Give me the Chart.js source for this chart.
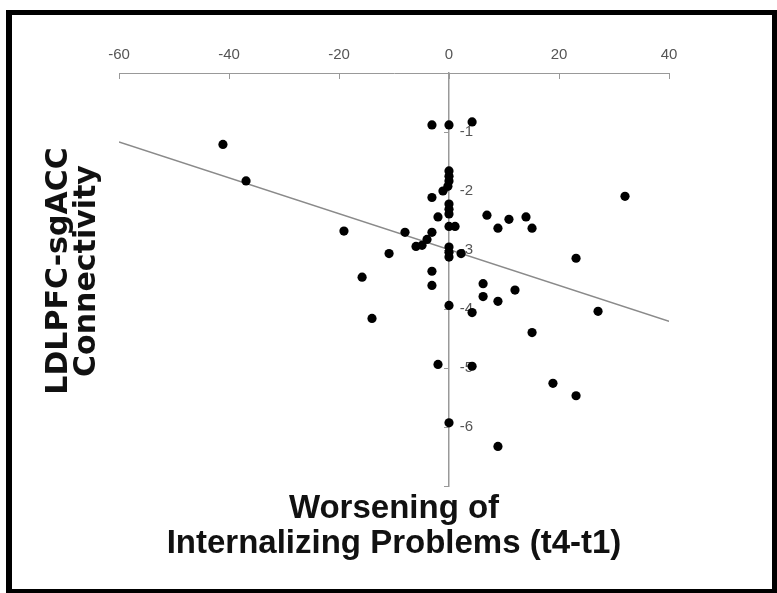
<!DOCTYPE html>
<html>
<head>
<meta charset="utf-8">
<title>LDLPFC-sgACC Connectivity</title>
<script src="https://cdn.jsdelivr.net/npm/chart.js@4.4.1/dist/chart.umd.min.js"></script>
<style>
  html, body { margin: 0; padding: 0; background: #fff; }
  #frame {
    position: absolute; left: 6px; top: 10px; width: 771px; height: 583px;
    box-sizing: border-box; border-style: solid; border-color: #000;
    border-width: 5px 5px 4px 6px;
  }
  #chart { position: absolute; left: 0; top: 0; }
</style>
</head>
<body>
<div id="frame"></div>
<canvas id="chart" width="777" height="593"></canvas>
<script>
// worsening of internalizing problems (t4-t1), one entry per subject
const worsening = [-41.1, -36.9, -3.1, 0, 4.2, 0, 0, 0, -0.2, -1.1, -3.1, 0, 0, 0, -2.0, 6.9, 8.9, 10.9, 14.0, 15.1,
  32.0, 0, 1.1, -19.1, -8.0, -3.1, -4.0, -4.9, -6.0, -10.9, 0, 0, 0, 2.2, 23.1, -15.8, -3.1, -3.1, 6.2, 6.2,
  8.9, 12.0, -14.0, 0, 4.2, 27.1, 15.1, -2.0, 4.2, 18.9, 23.1, 0, 8.9];

// LDLPFC-sgACC connectivity for the same subjects
const connectivity = [-1.21, -1.83, -0.88, -0.88, -0.83, -1.66, -1.75, -1.83, -1.92, -2.00, -2.11, -2.22, -2.31, -2.39, -2.44, -2.41, -2.63, -2.48, -2.44, -2.63,
  -2.09, -2.60, -2.60, -2.68, -2.70, -2.70, -2.82, -2.92, -2.94, -3.06, -2.95, -3.04, -3.12, -3.06, -3.14, -3.46, -3.36, -3.60, -3.57, -3.79,
  -3.87, -3.68, -4.16, -3.94, -4.06, -4.04, -4.40, -4.94, -4.97, -5.26, -5.47, -5.93, -6.33];

// fitted line, read at both ends of the x axis
const trendX = [-60, 40];
const trendY = [-1.17, -4.21];

const xTitle = ['Worsening of', 'Internalizing Problems (t4-t1)'];
const yTitle = ['LDLPFC-sgACC', 'Connectivity'];

Chart.defaults.font.family = "'Liberation Sans', Arial, sans-serif";

const ctx = document.getElementById('chart').getContext('2d');

const points = worsening.map((x, i) => ({ x: x, y: connectivity[i] }));
const trend = trendX.map((x, i) => ({ x: x, y: trendY[i] }));

new Chart(ctx, {
  type: 'scatter',
  data: {
    datasets: [{
      data: points,
      pointRadius: 4.6,
      pointBackgroundColor: '#000',
      pointBorderColor: '#000',
      pointBorderWidth: 0,
      order: 1
    }, {
      type: 'line',
      data: trend,
      borderColor: '#8a8a8a',
      borderWidth: 1.5,
      pointRadius: 0,
      fill: false,
      order: 2
    }]
  },
  options: {
    responsive: false,
    animation: false,
    devicePixelRatio: 1,
    layout: { padding: { top: 31, bottom: 82, left: 20, right: 108 } },
    plugins: {
      legend: { display: false },
      tooltip: { enabled: false },
      // x axis title sits under the plot
      title: {
        display: true,
        position: 'bottom',
        fullSize: false,
        text: xTitle,
        color: '#111',
        font: { size: 33, weight: 'bold', lineHeight: 35 / 33 },
        padding: { top: 5, bottom: -50 }
      },
      // y axis title on the left, two rotated lines
      subtitle: {
        display: true,
        position: 'left',
        text: yTitle,
        color: '#111',
        font: { family: "'DejaVu Sans', sans-serif", size: 30, weight: 'bold', lineHeight: 28 / 30 },
        padding: { top: 25, bottom: 18 }
      }
    },
    scales: {
      x: {
        type: 'linear',
        position: 'top',
        min: -60,
        max: 40,
        ticks: { stepSize: 20, color: '#555', font: { size: 15 }, padding: 15 },
        grid: { drawOnChartArea: false, color: '#999', tickLength: -6 },
        border: { color: '#999', width: 1 }
      },
      // vertical axis line crossing at x = 0
      y: {
        type: 'linear',
        position: { x: 0 },
        min: -7,
        max: 0,
        ticks: { display: false, stepSize: 1 },
        grid: { drawOnChartArea: false, color: '#999', tickLength: 4 },
        border: { color: '#999', width: 1.5 }
      },
      // its labels, set just right of the line
      yLabels: {
        type: 'linear',
        axis: 'y',
        position: { x: 4.4 },
        min: -7,
        max: 0,
        grid: { display: false },
        border: { display: false },
        ticks: {
          stepSize: 1,
          color: '#555',
          font: { size: 15 },
          callback: v => (v === 0 || v === -7) ? '' : v
        }
      }
    }
  }
});
</script>
</body>
</html>
